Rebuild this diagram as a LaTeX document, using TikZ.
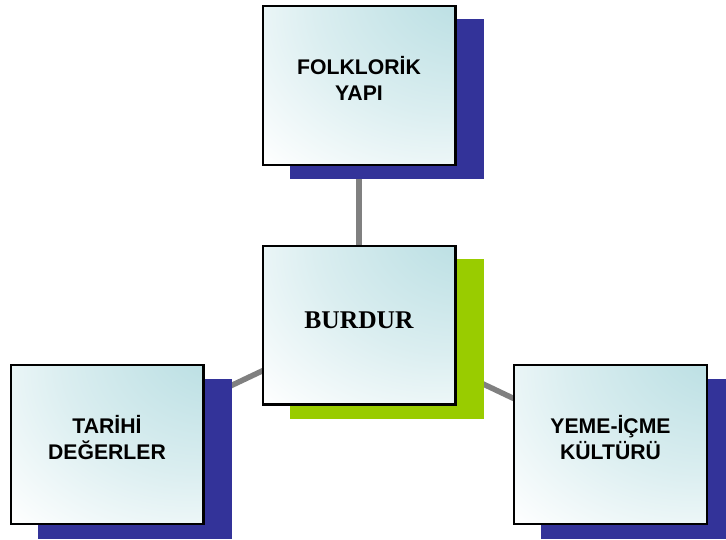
\documentclass[tikz,border=0pt]{standalone}
\usepackage{fontspec}
\setmainfont{Liberation Sans}
\newfontfamily\titleserif{Liberation Serif}

\definecolor{glow}{RGB}{189,224,228}
\definecolor{navyshade}{RGB}{51,51,153}
\definecolor{limeshade}{RGB}{153,204,0}
\definecolor{linkgray}{RGB}{128,128,128}

% pale cyan glow in the upper right corner fading to white
\pgfdeclareradialshading{boxglow}{\pgfpoint{36bp}{40bp}}{%
  color(0bp)=(glow); color(12bp)=(glow); color(35bp)=(glow!55!white); color(58bp)=(white); color(100bp)=(white)}

\pgfdeclarelayer{links}
\pgfdeclarelayer{shadows}
\pgfsetlayers{links,shadows,main}

\tikzset{
  card/.style={rectangle, draw=black, line width=2.2pt, shading=boxglow,
    minimum width=192.8pt, minimum height=158.8pt, inner sep=0pt, outer sep=0pt},
  cardshadow/.style={rectangle, minimum width=194pt, minimum height=160pt,
    inner sep=0pt, outer sep=0pt, draw=none},
  cardtext/.style={font=\bfseries\fontsize{21.2}{26.6}\selectfont, align=center,
    inner sep=0pt},
  hubtext/.style={font=\titleserif\bfseries\fontsize{25.5}{30}\selectfont,
    inner sep=0pt},
  link/.style={draw=linkgray, line width=5.5pt}
}

\begin{document}
\begin{tikzpicture}[x=1pt,y=-1pt]
\useasboundingbox (0,0) rectangle (726,539);

% the four cards
\node[card] (folk)  at (359,85.3) {};
\node[card] (hub)   at (359,325)  {};
\node[card] (tarih) at (107,444.5) {};
\node[card] (yeme)  at (610.5,444.5) {};

% drop shadows
\begin{pgfonlayer}{shadows}
  \node[cardshadow, fill=navyshade] (folkShadow)  at ([xshift=27.5pt,yshift=-14pt]folk.center) {};
  \node[cardshadow, fill=limeshade] (hubShadow)   at ([xshift=27.5pt,yshift=-14pt]hub.center) {};
  \node[cardshadow, fill=navyshade] (tarihShadow) at ([xshift=27.5pt,yshift=-14pt]tarih.center) {};
  \node[cardshadow, fill=navyshade] (yemeShadow)  at ([xshift=27.5pt,yshift=-14pt]yeme.center) {};
\end{pgfonlayer}

% connectors from the hub to each card
\begin{pgfonlayer}{links}
  \draw[link] (hub.center) -- (folk.center);
  \draw[link] (hub.center) -- (tarih.center);
  \draw[link] (hub.center) -- (yeme.center);
\end{pgfonlayer}

% card labels
\node[cardtext] (folkText)  at ([yshift=6.8pt]folk.center)  {FOLKLORİK\\YAPI};
\node[cardtext] (tarihText) at ([yshift=6.8pt]tarih.center) {TARİHİ\\DEĞERLER};
\node[cardtext] (yemeText)  at ([yshift=6.8pt]yeme.center)  {YEME-İÇME\\KÜLTÜRÜ};
\node[hubtext]  (hubText)   at ([yshift=4.5pt]hub.center)   {BURDUR};
\end{tikzpicture}
\end{document}
